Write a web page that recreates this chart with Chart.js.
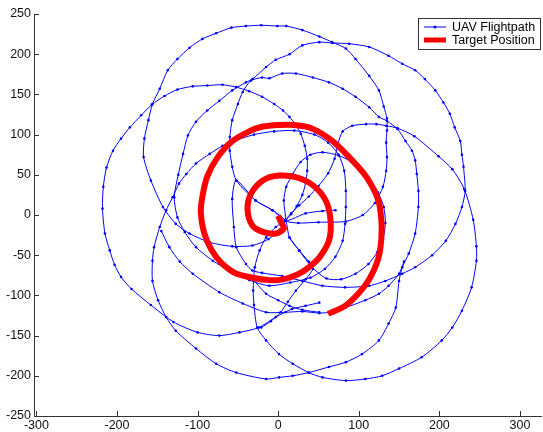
<!DOCTYPE html>
<html lang="en">
<head>
<meta charset="UTF-8">
<title>UAV Flightpath</title>
<script src="https://cdn.jsdelivr.net/npm/chart.js"></script>
<style>
  body { margin: 0; background: #fff; }
</style>
</head>
<body>
<canvas id="chart" width="543" height="432"></canvas>
<script>
// UAV path (data units); null breaks the line between traced pieces
const uavX = [
  // first loop, left
  51, 34, 17, -3, -24, -48, -73, -100, -130, -158, -182, -195, -203, -209, -215, -218, -217, -213, -205, -195, -184, -170, -157, -141, -125, -106, -88, -69, -52, -36, -20, -5, 6, 14, 22, 28, 33, 36, 36, 34, 30, 23, 16, 9,
  // right loop
  -3, -15, -23, -29, -31, -30, -26, -15, 1, 18, 38, 55, 84, 108, 129, 150, 178, 203, 216, 228, 240, 246, 246, 242, 231, 216, 199, 169, 148, 134, 122, 109, 92, 80, 74, 70, 62, 50, 38, 26, 16, 9,
  // top loop
  25, 50, 84, 105, 120, 130, 134, 135, 134, 135, 135, 131, 125, 113, 96, 84, 67, 51, 30, 10, -1, -21, -40, -58, -77, -94, -110, -125, -137, -147, -156, -161, -166, -167, -158, -143, -127, -110, -85, -57, -32, -12, 2, 9,
  // small loop through the centre
  7, 10, 18, 28, 40, 55, 75, 94, 112, 124, 131, 133, 130, 123, 112, 96, 78, 60, 42, 26, 14, 9,
  // up the left, over the top, round the right and bottom
  -7, -28, -52, -57, -60, -60, -57, -50, -44, -34, -20, -11, 5, 22, 43, 63, 80, 96, 113, 125, 135,
  148, 158, 166, 170, 172, 174, 174, 170, 162, 154, 150, 146, 137, 125, 104, 84, 63, 38, 18, 1, -15, -52, -77, -102, -127, -139, -149, -156, -156, -154, -147, -139, -131, -123, -114, -102, -85, -69, -52,
  -30, -5, 20, 45, 62, 75, 82, 84, 84, 83, 80, 71, 58, 40, 15, -11, -36, -61, -81, -102, -116, -125, -129, -124,
  -118, -112, -102, -88, -73, -57, -40, -32, -15, -3, 14, 30, 51, 67, 88, 113, 137, 154, 170, 182, 195, 205, 213, 219, 226, 228, 230, 232, 228, 220, 208, 191, 170, 154, 133, 113, 83, 55, 30, 5, -20, -32,
  -40, -52, -55, -57, -52, -28, -7, 9,
  // last leg
  34, 55, 71,
  null,
  // low crossing arc
  156, 150, 137, 125, 108, 84, 63, 51, 30, 9, -15, -44, -73, -106, -122, -135, -145,
  null,
  14, 26, 38, 43, 34, 22, 12, 3, -9, -21,
  null,
  -32, -15, 0, 14, 30, 51];
const uavY = [
  -109, -113, -117, -127, -140, -146, -150, -146, -133, -112, -92, -77, -62, -44, -23, 8, 35, 59, 80, 95, 109, 124, 137, 148, 156, 160, 161, 162, 159, 154, 147, 138, 130, 122, 112, 101, 86, 70, 55, 40, 25, 11, 1, -7,
  -15, -28, -44, -65, -94, -112, -140, -156, -173, -185, -196, -202, -206, -204, -200, -191, -177, -156, -140, -119, -90, -57, -39, -6, 32, 57, 73, 98, 108, 111, 113, 113, 111, 104, 88, 70, 52, 36, 23, 12, 2, -7,
  -10, -9, -8, 0, 15, 35, 55, 72, 90, 105, 120, 135, 155, 173, 194, 207, 215, 222, 230, 235, 235, 236, 235, 233, 226, 219, 208, 194, 180, 157, 138, 118, 95, 72, 43, 10, -11, -23, -34, -39, -38, -30, -18, -7,
  18, 35, 51, 66, 75, 78, 74, 64, 47, 28, 10, -10, -30, -46, -61, -73, -80, -79, -65, -44, -28, -7,
  6, 18, 43, 60, 80, 97, 118, 138, 153, 167, 171, 170, 176, 176, 171, 165, 157, 147, 134, 122, 117,
  107, 92, 80, 68, 51, 30, 10, -23, -48, -65, -82, -115, -135, -156, -173, -183, -189, -196, -200, -202, -204, -196, -185, -166, -144, -127, -106, -82, -57, -40, -15, 6, 22, 39, 51, 64, 76, 86, 93,
  100, 104, 105, 100, 90, 75, 55, 30, 10, -11, -32, -52, -67, -78, -84, -88, -81, -69, -57, -40, -21, -3, 22, 50,
  76, 99, 116, 130, 142, 155, 165, 169, 184, 193, 200, 211, 215, 214, 213, 209, 198, 188, 180, 169, 155, 140, 126, 109, 92, 75, 60, 30, 10, -11, -32, -50, -65, -73, -82, -88, -90, -88, -82, -76, -72, -69,
  -61, -40, -15, 20, 43, 18, 6, -7,
  2, 5, 6,
  null,
  -58, -73, -88, -98, -106, -115, -121, -122, -120, -121, -121, -110, -96, -73, -58, -40, -20,
  null,
  -28, -44, -58, -67, -80, -94, -108, -121, -132, -140,
  null,
  -79, -98, -106, -113, -118, -121];

// Target spiral
const targetX = [0, 3, 7, -3, -19, -32, -38, -34, -19, 1, 22, 43, 59, 65, 63, 51, 38, 24, 6, -11, -32, -54, -71, -83, -92, -96, -94, -88, -75, -58, -36, -19, 2, 19, 41, 66, 88, 109, 124, 128, 128, 124, 113, 101, 83, 62];
const targetY = [-1, -8, -17, -23, -21, -13, 6, 26, 43, 49, 47, 37, 18, -7, -32, -53, -65, -74, -80, -81, -78, -72, -59, -43, -22, 3, 23, 48, 72, 91, 104, 110, 112, 112, 108, 93, 72, 48, 19, -6, -30, -55, -80, -96, -113, -123];

const xTicks = [-300, -200, -100, 0, 100, 200, 300];
const yTicks = [-250, -200, -150, -100, -50, 0, 50, 100, 150, 200, 250];

function toPoints(xs, ys) {
  return xs.map((x, i) => ({ x: x, y: ys[i] }));
}

const fontFamily = 'Arial, "Liberation Sans", sans-serif';

// MATLAB style ticks pointing into the axes
const inwardTicks = {
  id: 'inwardTicks',
  afterDraw(chart) {
    const ctx = chart.ctx, a = chart.chartArea;
    const sx = chart.scales.x, sy = chart.scales.y;
    ctx.save();
    ctx.strokeStyle = '#333';
    ctx.lineWidth = 1;
    ctx.beginPath();
    sx.ticks.forEach(t => {
      const px = Math.round(sx.getPixelForValue(t.value)) + 0.5;
      ctx.moveTo(px, a.bottom);
      ctx.lineTo(px, a.bottom - 5);
    });
    sy.ticks.forEach(t => {
      const py = Math.round(sy.getPixelForValue(t.value)) + 0.5;
      ctx.moveTo(a.left, py);
      ctx.lineTo(a.left + 5, py);
    });
    ctx.stroke();
    ctx.restore();
  }
};

// legend box in the top right corner
const boxLegend = {
  id: 'boxLegend',
  afterDraw(chart) {
    const ctx = chart.ctx;
    const ds = chart.data.datasets;
    const left = 418, top = 18, w = 122, h = 31;
    ctx.save();
    ctx.fillStyle = '#fff';
    ctx.fillRect(left, top, w, h);
    ctx.strokeStyle = '#333';
    ctx.lineWidth = 1;
    ctx.strokeRect(left + 0.5, top + 0.5, w, h);
    ctx.font = '12.5px ' + fontFamily;
    ctx.textBaseline = 'middle';
    ds.forEach((d, i) => {
      const y = top + 9 + i * 13;
      ctx.strokeStyle = d.borderColor;
      ctx.lineWidth = Math.min(d.borderWidth, 5);
      ctx.beginPath();
      ctx.moveTo(left + 6, y);
      ctx.lineTo(left + 28, y);
      ctx.stroke();
      if (d.pointRadius > 0) {
        ctx.fillStyle = d.borderColor;
        ctx.beginPath();
        ctx.arc(left + 17, y, 1.5, 0, Math.PI * 2);
        ctx.fill();
      }
      ctx.fillStyle = '#000';
      ctx.fillText(d.label, left + 34, y + 0.5);
    });
    ctx.restore();
  }
};

new Chart(document.getElementById('chart'), {
  type: 'scatter',
  data: {
    datasets: [{
      label: 'UAV Flightpath',
      data: toPoints(uavX, uavY),
      showLine: true,
      spanGaps: false,
      borderColor: '#0000ff',
      backgroundColor: '#0000ff',
      borderWidth: 1,
      pointRadius: 1.3,
      pointBorderWidth: 0,
      pointHoverRadius: 0,
      tension: 0.25,
      order: 1
    }, {
      label: 'Target Position',
      data: toPoints(targetX, targetY),
      showLine: true,
      borderColor: '#ff0000',
      backgroundColor: '#ff0000',
      borderWidth: 6,
      pointRadius: 0,
      pointHoverRadius: 0,
      tension: 0.3,
      order: 0
    }]
  },
  options: {
    responsive: false,
    animation: false,
    devicePixelRatio: 1,
    layout: { padding: { top: 14, left: 0, right: 0, bottom: 0 } },
    plugins: {
      legend: { display: false },
      tooltip: { enabled: false }
    },
    scales: {
      x: {
        type: 'linear',
        min: -303,
        max: 327,
        afterBuildTicks: s => { s.ticks = xTicks.map(v => ({ value: v })); },
        afterFit: s => { s.height = 16; },
        grid: { display: false, drawTicks: false },
        border: { display: true, color: '#333' },
        ticks: { color: '#111', padding: 2, maxRotation: 0, autoSkip: false, font: { family: fontFamily, size: 12.5 } }
      },
      y: {
        type: 'linear',
        min: -250,
        max: 250,
        afterBuildTicks: s => { s.ticks = yTicks.map(v => ({ value: v })); },
        afterFit: s => { s.width = 34; },
        grid: { display: false, drawTicks: false },
        border: { display: true, color: '#333' },
        ticks: { color: '#111', padding: 3, autoSkip: false, font: { family: fontFamily, size: 12.5 } }
      }
    }
  },
  plugins: [inwardTicks, boxLegend]
});
</script>
</body>
</html>
